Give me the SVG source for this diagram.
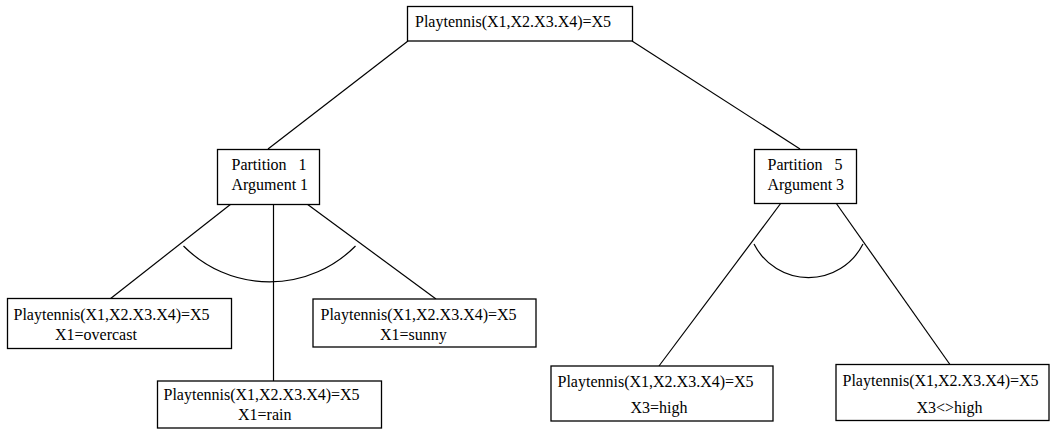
<svg xmlns="http://www.w3.org/2000/svg" width="1050" height="429" viewBox="0 0 1050 429">
<style>
.box{fill:#fff;stroke:#000;stroke-width:1.3}
.t{font-size:16px;fill:#000;white-space:pre}
.c{fill:none;stroke:#000;stroke-width:1.2}
</style>
<rect width="1050" height="429" fill="#fff"/>
<g id="connectors">
<line class="c" x1="408" y1="41" x2="268" y2="149"/>
<line class="c" x1="632" y1="41" x2="800" y2="149"/>
<line class="c" x1="231" y1="204" x2="110" y2="299"/>
<line class="c" x1="273.5" y1="204" x2="273.5" y2="381"/>
<line class="c" x1="307" y1="204" x2="436" y2="299"/>
<line class="c" x1="781" y1="203" x2="659" y2="366"/>
<line class="c" x1="836" y1="203" x2="951" y2="366"/>
<path class="c" d="M183.5,246 A121,121 0 0 0 355.5,246"/>
<path class="c" d="M754,244 A61,61 0 0 0 863,244"/>
</g>
<g font-family="'Liberation Serif', 'DejaVu Serif', serif">
<g id="root">
<rect class="box" x="407.5" y="6.5" width="225" height="34.5"/>
<text class="t" x="415" y="27">Playtennis(X1,X2.X3.X4)=X5</text>
</g>
<g id="partition1">
<rect class="box" x="217.5" y="149.5" width="102" height="55"/>
<text class="t" x="231.5" y="169.5">Partition   1</text>
<text class="t" x="231.5" y="189.5">Argument 1</text>
</g>
<g id="partition5">
<rect class="box" x="754.5" y="149.5" width="102" height="54"/>
<text class="t" x="767.5" y="170">Partition   5</text>
<text class="t" x="767.5" y="190">Argument 3</text>
</g>
<g id="overcast">
<rect class="box" x="7.5" y="298.5" width="224" height="50"/>
<text class="t" x="13.5" y="319.5">Playtennis(X1,X2.X3.X4)=X5</text>
<text class="t" x="55" y="339.5">X1=overcast</text>
</g>
<g id="sunny">
<rect class="box" x="313" y="299" width="223" height="48"/>
<text class="t" x="320.5" y="319.5">Playtennis(X1,X2.X3.X4)=X5</text>
<text class="t" x="380" y="339.5">X1=sunny</text>
</g>
<g id="rain">
<rect class="box" x="157.5" y="381" width="224" height="47"/>
<text class="t" x="163.5" y="399.5">Playtennis(X1,X2.X3.X4)=X5</text>
<text class="t" x="238" y="419.5">X1=rain</text>
</g>
<g id="high">
<rect class="box" x="551" y="366" width="222" height="55"/>
<text class="t" x="557.5" y="387">Playtennis(X1,X2.X3.X4)=X5</text>
<text class="t" x="630.5" y="413">X3=high</text>
</g>
<g id="nothigh">
<rect class="box" x="836" y="364.5" width="213" height="56"/>
<text class="t" x="842.5" y="386">Playtennis(X1,X2.X3.X4)=X5</text>
<text class="t" x="916.5" y="413">X3&lt;&gt;high</text>
</g>
</g>
</svg>
